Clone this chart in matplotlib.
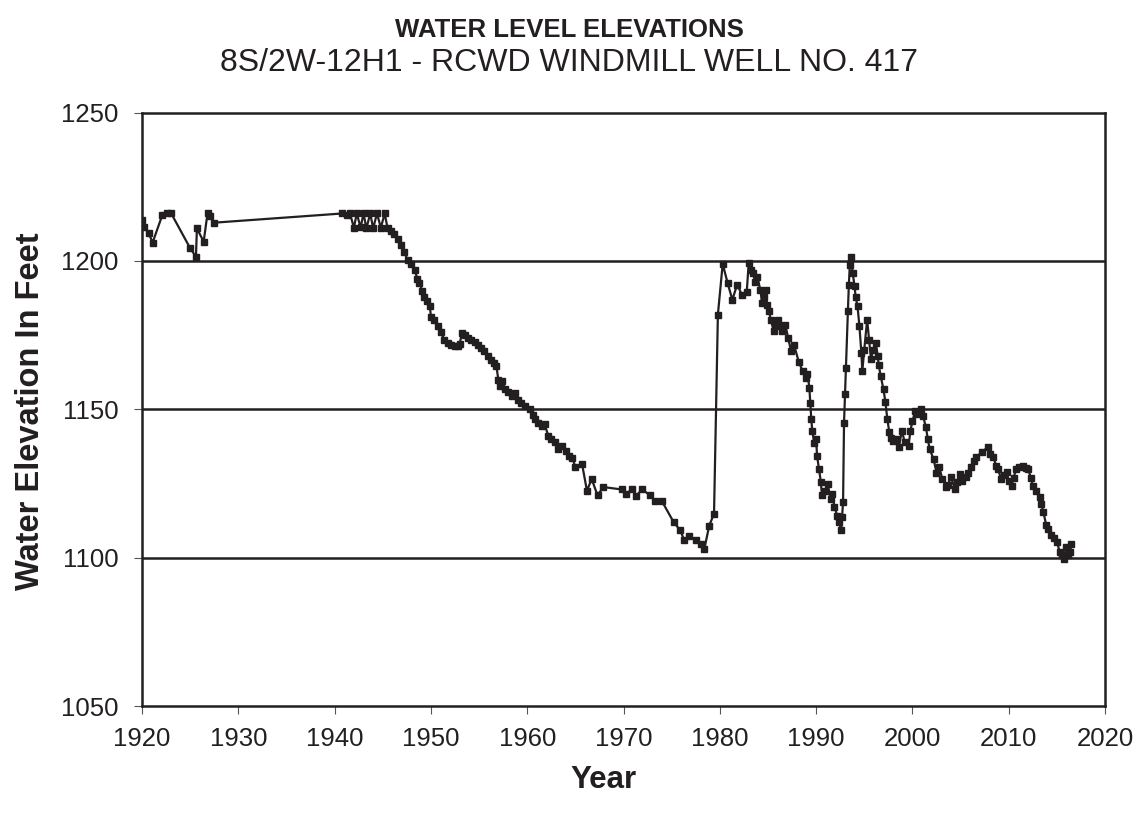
import matplotlib.pyplot as plt

plt.rcParams['font.family'] = ['Liberation Sans', 'DejaVu Sans']

# water level readings (year, elevation in feet)
years = [
    1920.0, 1920.2, 1920.7, 1921.1, 1922.1, 1922.6, 1923.0, 1925.0, 1925.6,
    1925.7, 1926.4, 1926.8, 1927.1, 1927.5,
    1940.8, 1941.3, 1941.6, 1942.0, 1942.3, 1942.7, 1943.0, 1943.3, 1943.7,
    1944.0, 1944.4, 1944.8, 1945.2, 1945.5, 1945.9,
    1946.2, 1946.6, 1946.9, 1947.2, 1947.6, 1947.9, 1948.3, 1948.6, 1948.8,
    1949.1, 1949.3, 1949.6, 1949.9, 1950.0, 1950.3, 1950.7, 1951.0, 1951.4,
    1951.8, 1952.1, 1952.5, 1952.8, 1953.0, 1953.2, 1953.5, 1953.9, 1954.2,
    1954.6, 1954.9, 1955.2, 1955.5, 1955.9, 1956.2, 1956.5, 1956.8, 1957.0,
    1957.2, 1957.4, 1957.7, 1958.0, 1958.4, 1958.7, 1959.0, 1959.4, 1959.8,
    1960.3, 1960.6, 1960.8, 1961.1, 1961.5, 1961.8, 1962.2, 1962.5, 1962.9,
    1963.2, 1963.6, 1964.0, 1964.3, 1964.7, 1965.0, 1965.7,
    1966.2, 1966.7, 1967.3, 1967.9, 1969.8, 1970.3, 1970.9, 1971.3,
    1971.9, 1972.8, 1973.3, 1974.0, 1975.2, 1975.9, 1976.3, 1976.8, 1977.5,
    1978.0, 1978.4, 1978.9, 1979.4, 1979.8, 1980.3, 1980.8, 1981.3, 1981.8,
    1982.3, 1982.8, 1983.0, 1983.2, 1983.4, 1983.7, 1983.9, 1984.2, 1984.4,
    1984.6, 1984.8, 1984.9, 1985.1, 1985.3, 1985.6, 1985.8, 1986.0, 1986.3,
    1986.5, 1986.8, 1987.1, 1987.4, 1987.7, 1988.2, 1988.6, 1988.9,
    1989.1, 1989.3, 1989.4, 1989.5, 1989.6, 1989.8, 1990.0, 1990.1, 1990.3,
    1990.5, 1990.6, 1990.9, 1991.2, 1991.5, 1991.7, 1991.9, 1992.2, 1992.4,
    1992.6, 1992.7, 1992.8, 1992.9, 1993.0, 1993.1, 1993.3, 1993.4, 1993.5,
    1993.6, 1993.8, 1994.0, 1994.1, 1994.3, 1994.5, 1994.7, 1994.8, 1995.0,
    1995.3, 1995.5, 1995.7, 1995.9, 1996.2, 1996.4, 1996.5, 1996.7, 1997.0,
    1997.2, 1997.4, 1997.6, 1997.8, 1998.0, 1998.3, 1998.6, 1998.9, 1999.2,
    1999.6, 1999.8, 2000.0, 2000.3, 2000.5, 2000.9, 2001.1, 2001.4, 2001.6,
    2001.8, 2002.2, 2002.5, 2002.8, 2003.1, 2003.5, 2003.7, 2004.0, 2004.4,
    2004.6, 2004.9, 2005.2, 2005.6, 2005.8, 2006.1, 2006.4, 2006.6, 2007.2,
    2007.8, 2008.1, 2008.4, 2008.7, 2008.9, 2009.2, 2009.5, 2009.8, 2010.0,
    2010.3, 2010.5, 2010.8, 2011.1, 2011.5, 2011.8, 2012.0, 2012.3, 2012.5,
    2012.8, 2013.2, 2013.4, 2013.6, 2013.9, 2014.1, 2014.4, 2014.7, 2015.0,
    2015.3, 2015.5, 2015.7, 2016.0, 2016.2, 2016.4, 2016.5,
]
elev = [
    1213.8, 1211.5, 1209.3, 1206.2, 1215.4, 1216.0, 1216.2, 1204.3, 1201.4,
    1211.0, 1206.5, 1216.0, 1215.0, 1212.9,
    1216.0, 1215.5, 1216.0, 1211.2, 1216.0, 1211.3, 1216.0, 1211.0, 1216.0,
    1211.0, 1216.0, 1211.2, 1216.0, 1211.0, 1210.0,
    1209.0, 1207.5, 1205.5, 1203.0, 1200.3, 1199.0, 1197.0, 1194.0, 1192.5,
    1190.0, 1188.0, 1186.5, 1184.7, 1181.0, 1180.0, 1178.0, 1176.0, 1173.5,
    1172.5, 1171.8, 1171.2, 1171.3, 1172.0, 1175.7, 1175.0, 1174.0, 1173.5,
    1172.8, 1171.8, 1170.8, 1169.5, 1168.0, 1166.5, 1165.5, 1164.6, 1160.0,
    1158.0, 1159.5, 1157.0, 1156.0, 1154.5, 1155.5, 1153.0, 1152.2, 1151.0,
    1150.0, 1148.0, 1146.6, 1145.5, 1144.4, 1145.0, 1141.0, 1140.0, 1139.0,
    1136.6, 1137.5, 1136.0, 1134.3, 1133.5, 1130.5, 1131.5,
    1122.6, 1126.5, 1121.0, 1123.8, 1123.0, 1121.5, 1123.2, 1120.7,
    1123.0, 1121.0, 1119.0, 1119.0, 1112.0, 1109.2, 1105.9, 1107.3, 1105.9,
    1104.7, 1103.0, 1110.8, 1114.8, 1181.9, 1199.0, 1192.7, 1186.9, 1192.0,
    1188.6, 1189.7, 1199.2, 1197.0, 1195.9, 1193.0, 1194.7, 1190.3, 1185.8,
    1188.0, 1190.3, 1185.2, 1183.0, 1180.2, 1176.3, 1178.5, 1180.2, 1178.0,
    1176.5, 1178.5, 1174.0, 1169.6, 1171.8, 1166.0, 1162.9, 1160.7,
    1162.0, 1157.3, 1152.2, 1146.6, 1142.8, 1138.8, 1140.0, 1134.3, 1129.9,
    1125.4, 1121.0, 1122.5, 1124.8, 1119.8, 1121.5, 1117.0, 1114.2, 1112.0,
    1109.2, 1113.7, 1118.7, 1145.5, 1155.0, 1164.0, 1183.0, 1191.9, 1198.7,
    1201.4, 1195.9, 1191.4, 1188.0, 1184.7, 1178.0, 1169.0, 1162.9, 1170.1,
    1180.2, 1173.5, 1166.8, 1170.0, 1172.4, 1168.0, 1165.0, 1161.3, 1156.7,
    1152.3, 1146.6, 1142.3, 1140.5, 1139.4, 1140.0, 1137.2, 1142.8, 1139.0,
    1137.7, 1142.8, 1146.0, 1149.5, 1148.5, 1150.0, 1147.8, 1144.0, 1140.0,
    1136.5, 1133.2, 1128.7, 1130.5, 1126.5, 1123.8, 1124.5, 1127.2, 1123.2,
    1125.5, 1128.2, 1126.0, 1127.2, 1128.5, 1130.5, 1132.5, 1133.9, 1135.5,
    1137.2, 1135.0, 1133.9, 1131.0, 1129.9, 1126.5, 1128.0, 1128.8, 1126.0,
    1124.3, 1127.0, 1129.9, 1130.5, 1131.0, 1130.2, 1129.9, 1127.0, 1124.3,
    1122.5, 1120.4, 1118.0, 1115.4, 1110.9, 1109.5, 1107.5, 1106.5, 1105.3,
    1102.0, 1101.0, 1099.7, 1103.6, 1101.0, 1102.0, 1104.7,
]

ink = '#231f20'

fig = plt.figure(figsize=(11.38, 8.23), dpi=100)
ax = fig.add_axes([0.1248, 0.1421, 0.8462, 0.7211])

ax.plot(years, elev, color=ink, linewidth=1.6, marker='s', markersize=4.5,
        markerfacecolor=ink, markeredgecolor=ink)

ax.set_xlim(1920, 2020)
ax.set_ylim(1050, 1250)
ax.set_xticks(range(1920, 2021, 10))
ax.set_yticks(range(1050, 1251, 50))
for g in [1100, 1150, 1200]:
    ax.axhline(g, color=ink, linewidth=1.8, zorder=0)

for s in ax.spines.values():
    s.set_linewidth(1.8)
    s.set_color(ink)
ax.tick_params(direction='out', length=6, width=0.8, colors='#555555',
               labelcolor=ink, labelsize=18.5)
ax.tick_params(axis='x', pad=9)
ax.tick_params(axis='y', pad=11)

fig.text(0.530, 0.052, 'Year', ha='center', va='center',
         fontsize=22.5, fontweight='bold', color=ink)
fig.text(0.027, 0.500, 'Water Elevation In Feet', ha='center', va='center',
         rotation=90, fontsize=23.5, fontweight='bold', color=ink)

fig.text(0.5, 0.963, 'WATER LEVEL ELEVATIONS', ha='center', va='center',
         fontsize=18.5, fontweight='bold', color=ink)
fig.text(0.5, 0.924, '8S/2W-12H1 - RCWD WINDMILL WELL NO. 417', ha='center', va='center',
         fontsize=23, color=ink)

plt.savefig('out.png', dpi=100)
